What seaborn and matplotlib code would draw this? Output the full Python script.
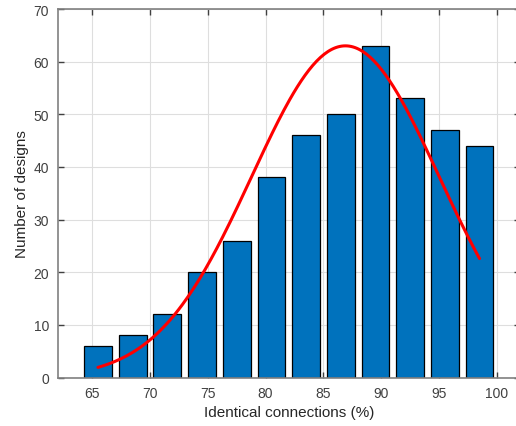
import numpy as np
import pandas as pd
import matplotlib
matplotlib.use("Agg")
import matplotlib.pyplot as plt
import seaborn as sns

# --- data ---
bin_centers = [65.5, 68.5, 71.5, 74.5, 77.5, 80.5, 83.5, 86.5, 89.5, 92.5, 95.5, 98.5]
counts = [6, 8, 12, 20, 26, 38, 46, 50, 63, 53, 47, 44]

# normal fit drawn over the histogram
fit_mean = 86.9
fit_std = 8.1
fit_peak = 63.0

x_ticks = [65, 70, 75, 80, 85, 90, 95, 100]
y_ticks = [0, 10, 20, 30, 40, 50, 60, 70]

sns.set_theme(style="whitegrid")
plt.rcParams['font.family'] = ['Liberation Sans', 'DejaVu Sans']

fig = plt.figure(figsize=(5.16, 4.27), dpi=100)
W, H = 516, 427
# axes runs past the right edge of the picture, like the cropped original
ax = fig.add_axes([57.5 / W, (H - 378.5) / H, (520 - 57.5) / W, (378.5 - 10) / H])

df = pd.DataFrame({"x": bin_centers, "n": counts})
sns.barplot(data=df, x="x", y="n", native_scale=True, width=0.8,
            color="#0072BD", saturation=1, edgecolor="black", linewidth=0.9,
            ax=ax, zorder=2)

fit_x = np.linspace(bin_centers[0], bin_centers[-1], 200)
fit_y = fit_peak * np.exp(-0.5 * ((fit_x - fit_mean) / fit_std) ** 2)
sns.lineplot(x=fit_x, y=fit_y, color="red", linewidth=2.2, ax=ax, zorder=3)

ax.set_xlim(62.0, 102.0)
ax.set_ylim(0, 70)
ax.set_xticks(x_ticks)
ax.set_yticks(y_ticks)
ax.set_xlabel("Identical connections (%)", fontsize=11, color="#262626", labelpad=4)
ax.set_ylabel("Number of designs", fontsize=11, color="#262626", labelpad=3)

ax.set_facecolor("white")
ax.grid(True, color="#dedede", linewidth=0.8)
ax.set_axisbelow(True)
for side in ["left", "top", "right", "bottom"]:
    ax.spines[side].set_visible(True)
    ax.spines[side].set_color("#808080")
    ax.spines[side].set_linewidth(1.2)
ax.tick_params(direction="in", length=4, width=1, color="#404040",
               labelsize=10, labelcolor="#404040", top=True, right=True,
               bottom=True, left=True, pad=6)

fig.savefig("out.png", dpi=100, facecolor="white")
